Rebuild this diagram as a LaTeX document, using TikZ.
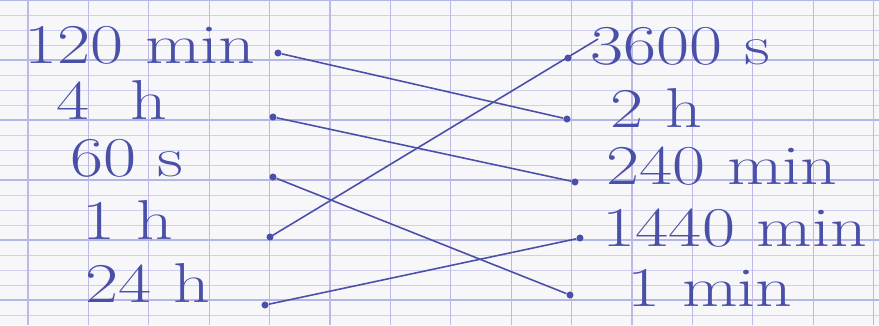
\documentclass[tikz,border=0pt]{standalone}
\usepackage{tikz}
\usetikzlibrary{arrows.meta,positioning,calc}
\usepackage{xcolor}

\definecolor{ink}{HTML}{4A50A8}
\definecolor{paper}{HTML}{F7F7FA}
\definecolor{thinrule}{HTML}{CDD0F0}
\definecolor{thickrule}{HTML}{B3B7E6}
\definecolor{vrule}{HTML}{BDB8E8}

\tikzset{
  word/.style={ink, font=\fontsize{32}{36}\selectfont, inner sep=0pt, xscale=1.28},
  dot/.style={circle, fill=ink, inner sep=0pt, minimum size=4pt},
  link/.style={ink, line width=0.9pt},
}

\begin{document}
\begin{tikzpicture}[x=0.02cm, y=-0.02cm]

% Paper
\fill[paper] (0,0) rectangle (879,325);
\useasboundingbox (0,0) rectangle (879,325);

% Seyes ruling
\foreach \y in {15,30,...,315}{
  \draw[thinrule, line width=0.5pt] (0,\y) -- (879,\y);
}
\foreach \y in {0,60,...,300}{
  \draw[thickrule, line width=0.8pt] (0,\y) -- (879,\y);
}
\foreach \x in {28,88.4,...,880}{
  \draw[vrule, line width=0.6pt] (\x,0) -- (\x,325);
}

% Left column
\node[word] (m120) at (140,45) {120 min};
\node[word] (h4)   at (112,100) {4\hspace{18pt}h};
\node[word] (s60)  at (127,158) {60 s};
\node[word] (h1)   at (128,220) {1 h};
\node[word] (h24)  at (148,283) {24 h};

% Right column
\node[word] (s3600) at (680,46)  {3600 s};
\node[word] (h2)    at (656,108) {2 h};
\node[word] (m240)  at (722,166) {240 min};
\node[word] (m1440) at (735,228) {1440 min};
\node[word] (m1)    at (710,288) {1 min};

% Dots
\node[dot] (l1) at (278,53)  {};
\node[dot] (l2) at (273,117) {};
\node[dot] (l3) at (273,177) {};
\node[dot] (l4) at (270,237) {};
\node[dot] (l5) at (265,305) {};
\node[dot] (r1) at (568,58)  {};
\node[dot] (r2) at (567,119) {};
\node[dot] (r3) at (575,182) {};
\node[dot] (r4) at (580,238) {};
\node[dot] (r5) at (570,295) {};
\coordinate (tail) at (598,39);

% Matching lines
\draw[link] (l1) -- (r2);
\draw[link] (l2) -- (r3);
\draw[link] (l3) -- (r5);
\draw[link] (l4.center) -- (tail);
\draw[link] (l5) -- (r4);

\end{tikzpicture}
\end{document}
